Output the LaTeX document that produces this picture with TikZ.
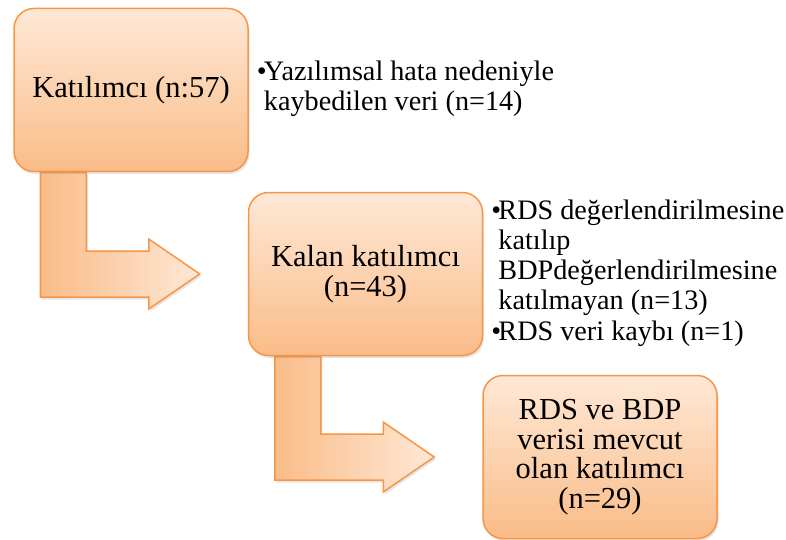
\documentclass[tikz,border=0pt]{standalone}
\usepackage{fontspec}
\setmainfont{Liberation Serif}
\usetikzlibrary{positioning,shadows,calc,backgrounds}
\definecolor{turuncu}{RGB}{247,150,70}
\definecolor{acik}{RGB}{254,232,214}
\definecolor{koyu}{RGB}{250,188,136}
\begin{document}
\begin{tikzpicture}[x=1pt,y=-1pt,
		kutu/.style={draw=turuncu, line width=1.5pt, rounded corners=20pt, top color=acik, bottom color=koyu,
			minimum width=234pt, minimum height=163pt, align=center, inner sep=4pt,
			font=\fontsize{30.5}{29.5}\selectfont,
			drop shadow={opacity=0.2, shadow xshift=1.5pt, shadow yshift=-2.5pt}},
		madde/.style={inner sep=0pt, align=left, font=\fontsize{28.2}{30}\selectfont},
		ok/.style={draw=turuncu, line width=1.5pt, left color=koyu, right color=acik,
			drop shadow={opacity=0.2, shadow xshift=1.5pt, shadow yshift=-2.5pt}}]
	\useasboundingbox (0,0) rectangle (786,540);
	\node[kutu] (katilimci) at (131,90) {Katılımcı (n:57)};
	\node[kutu] (kalan) at (365.5,274) {Kalan katılımcı\\(n=43)};
	\node[kutu] (mevcut) at (600,457) {RDS ve BDP\\verisi mevcut\\olan katılımcı\\(n=29)};
	\node[madde, right=8pt of katilimci] (kayip) {\begin{tabular}{@{}l@{}l@{}}
			\makebox[7pt][l]{\textbullet} & Yazılımsal hata nedeniyle\\
			& kaybedilen veri (n=14)
		\end{tabular}};
	\node[madde, right=8pt of kalan] (eksik) {\begin{tabular}{@{}l@{}l@{}}
			\makebox[7pt][l]{\textbullet} & RDS değerlendirilmesine\\
			& katılıp\\
			& BDPdeğerlendirilmesine\\
			& katılmayan (n=13)\\[1pt]
			\makebox[7pt][l]{\textbullet} & RDS veri kaybı (n=1)
		\end{tabular}};
	\begin{scope}[on background layer]
		\foreach \a/\b in {katilimci/kalan, kalan/mevcut}
			\draw[ok] let \p1=(\a.south west), \p2=([xshift=-48pt]\b.west) in
				(\x1+27pt,\y1) -- (\x1+73pt,\y1) -- (\x1+73pt,\y2+23pt) -- (\x2-51pt,\y2+23pt)
				-- (\x2-51pt,\y2+35pt) -- (\x2,\y2) -- (\x2-51pt,\y2-35pt) -- (\x2-51pt,\y2-23pt)
				-- (\x1+27pt,\y2-23pt) -- cycle;
	\end{scope}
\end{tikzpicture}
\end{document}
